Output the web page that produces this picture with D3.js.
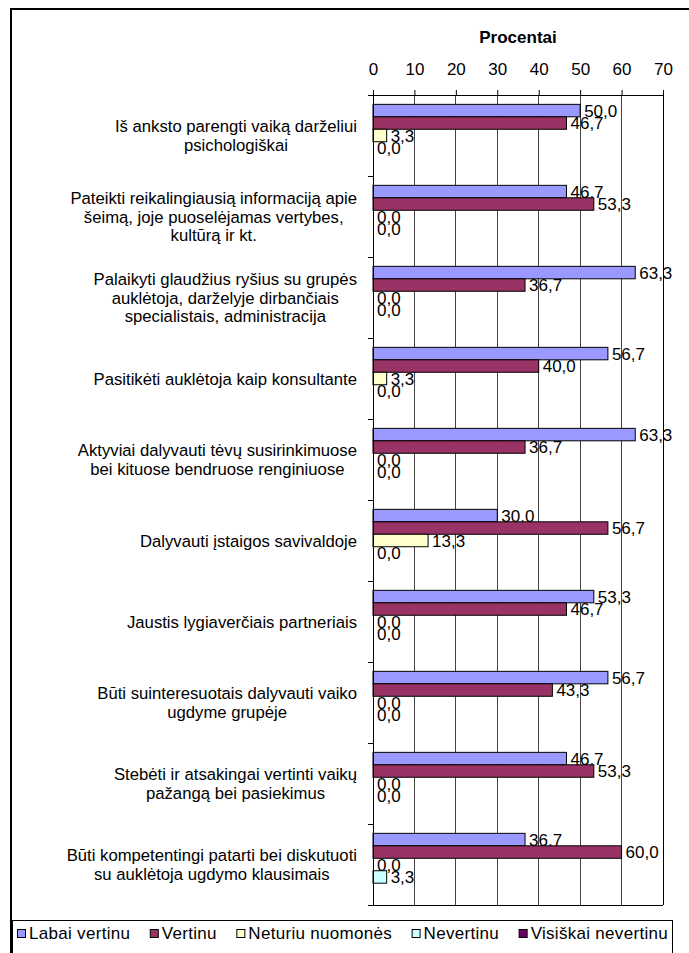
<!DOCTYPE html>
<html><head><meta charset="utf-8">
<script src="https://cdn.jsdelivr.net/npm/d3@7"></script>
<style>
html,body{margin:0;padding:0;background:#fff;overflow:hidden;}
svg{display:block;}
svg text{font-family:"Liberation Sans",Arial,sans-serif;fill:#000;}
</style></head>
<body>
<svg id="c" width="689" height="953"></svg>
<script>
const categories = [
  ["Iš anksto parengti vaiką darželiui","psichologiškai"],
  ["Pateikti reikalingiausią informaciją apie","šeimą, joje puoselėjamas vertybes,","kultūrą ir kt."],
  ["Palaikyti glaudžius ryšius su grupės","auklėtoja, darželyje dirbančiais","specialistais, administracija"],
  ["Pasitikėti auklėtoja kaip konsultante"],
  ["Aktyviai dalyvauti tėvų susirinkimuose","bei kituose bendruose renginiuose"],
  ["Dalyvauti įstaigos savivaldoje"],
  ["Jaustis lygiaverčiais partneriais"],
  ["Būti suinteresuotais dalyvauti vaiko","ugdyme grupėje"],
  ["Stebėti ir atsakingai vertinti vaikų","pažangą bei pasiekimus"],
  ["Būti kompetentingi patarti bei diskutuoti","su auklėtoja ugdymo klausimais"]
];
const seriesNames = ["Labai vertinu","Vertinu","Neturiu nuomonės","Nevertinu","Visiškai nevertinu"];
const seriesColors = ["#9999FF","#993366","#FFFFCC","#CCFFFF","#660066"];
const labaiVertinu   = [50.0,46.7,63.3,56.7,63.3,30.0,53.3,56.7,46.7,36.7];
const vertinu        = [46.7,53.3,36.7,40.0,36.7,56.7,46.7,43.3,53.3,60.0];
const neturiuNuomones= [3.3,0.0,0.0,3.3,0.0,13.3,0.0,0.0,0.0,0.0];
const nevertinu      = [0.0,0.0,0.0,0.0,0.0,0.0,0.0,0.0,0.0,3.3];
const visiskaiNevertinu = [null,null,null,null,null,null,null,null,null,null];
const xTicks = [0,10,20,30,40,50,60,70];
const axisTitle = "Procentai";

const seriesValues = [labaiVertinu,vertinu,neturiuNuomones,nevertinu,visiskaiNevertinu];
const svg = d3.select("#c");
const FS = 17;

// outer chart border
svg.append("rect").attr("x",11).attr("y",9).attr("width",700).attr("height",960)
  .attr("fill","none").attr("stroke","#000").attr("stroke-width",2);

const L = 373, R = 663, T = 95, B = 905;
const x = d3.scaleLinear().domain([0,70]).range([L,R]);
const catIdx = categories.map((d,i)=>i);
const y = d3.scaleBand().domain(catIdx).range([T,B]).padding(0);
const ys = d3.scaleBand().domain(d3.range(seriesNames.length)).range([0,y.bandwidth()])
  .paddingInner(0).paddingOuter(0.75);

// gridlines
svg.append("g").selectAll("line").data(xTicks.filter(t=>t>0)).join("line")
  .attr("x1",d=>x(d)).attr("x2",d=>x(d)).attr("y1",T).attr("y2",B)
  .attr("stroke",d=>d===70?"#000":"#444").attr("stroke-width",1)
  .attr("shape-rendering","crispEdges");
// bottom border
svg.append("line").attr("x1",L).attr("x2",R).attr("y1",B).attr("y2",B)
  .attr("stroke","#000").attr("shape-rendering","crispEdges");

// bars
const fmt = v => d3.format(".1f")(v).replace(".",",");
seriesValues.forEach((vals,s)=>{
  const g = svg.append("g");
  const data = vals.map((v,i)=>({v,i})).filter(d=>d.v!==null);
  g.selectAll("rect").data(data).join("rect")
    .attr("x",x(0)).attr("y",d=>y(d.i)+ys(s))
    .attr("width",d=>x(d.v)-x(0)).attr("height",ys.bandwidth())
    .attr("fill",seriesColors[s]).attr("stroke","#000").attr("stroke-width",1);
  g.selectAll("text").data(data).join("text")
    .attr("x",d=>x(d.v)+4).attr("y",d=>y(d.i)+ys(s)+ys.bandwidth()/2)
    .attr("dy","0.36em").attr("font-size",FS).text(d=>fmt(d.v));
});

// top axis
const ax = svg.append("g").attr("transform",`translate(0,${T})`)
  .call(d3.axisTop(x).tickValues(xTicks).tickSize(5).tickSizeOuter(0).tickPadding(15));
ax.select(".domain").attr("stroke","#000");
ax.selectAll(".tick line").attr("stroke","#000");
ax.selectAll("text").attr("font-size",FS).attr("font-family",null);
svg.append("text").attr("x",(L+R)/2).attr("y",43).attr("text-anchor","middle")
  .attr("font-size",FS).attr("font-weight","bold").text(axisTitle);

// left axis
svg.append("line").attr("x1",L).attr("x2",L).attr("y1",T).attr("y2",B+0.5)
  .attr("stroke","#000").attr("shape-rendering","crispEdges");
svg.append("g").selectAll("line").data(catIdx.concat([categories.length])).join("line")
  .attr("x1",L-5).attr("x2",L).attr("y1",d=>d<categories.length?y(d):B).attr("y2",d=>d<categories.length?y(d):B)
  .attr("stroke","#000").attr("shape-rendering","crispEdges");

// category labels
const LH = 18.3, RIGHT = 357;
categories.forEach((lines,i)=>{
  const g = svg.append("g");
  const ts = lines.map(l=>g.append("text").attr("font-size",16.7).attr("text-anchor","middle").text(l));
  const w = d3.max(ts,t=>t.node().getComputedTextLength());
  const cx = RIGHT - w/2;
  const cy = y(i)+y.bandwidth()/2;
  ts.forEach((t,k)=>t.attr("x",cx).attr("y",cy+(k-(lines.length-1)/2)*LH).attr("dy","0.36em"));
});

// legend
const lg = svg.append("g");
lg.append("rect").attr("x",12.5).attr("y",920.5).attr("width",660).attr("height",40)
  .attr("fill","#fff").attr("stroke","#000");
const items = seriesNames.map((n,s)=>{
  const t = lg.append("text").attr("font-size",FS).attr("letter-spacing",0.3).attr("y",939).text(n);
  return {t,w:t.node().getComputedTextLength(),s};
});
const MK = 8, G1 = 4;
const start = 17, end = 668;
const total = d3.sum(items,d=>d.w+MK+G1);
const gap = (end-start-total)/(items.length-1);
let cx = start;
items.forEach(it=>{
  lg.append("rect").attr("x",cx+0.5).attr("y",929.5).attr("width",MK).attr("height",MK)
    .attr("fill",seriesColors[it.s]).attr("stroke","#000");
  it.t.attr("x",cx+MK+G1);
  cx += MK+G1+it.w+gap;
});
</script>
</body></html>
